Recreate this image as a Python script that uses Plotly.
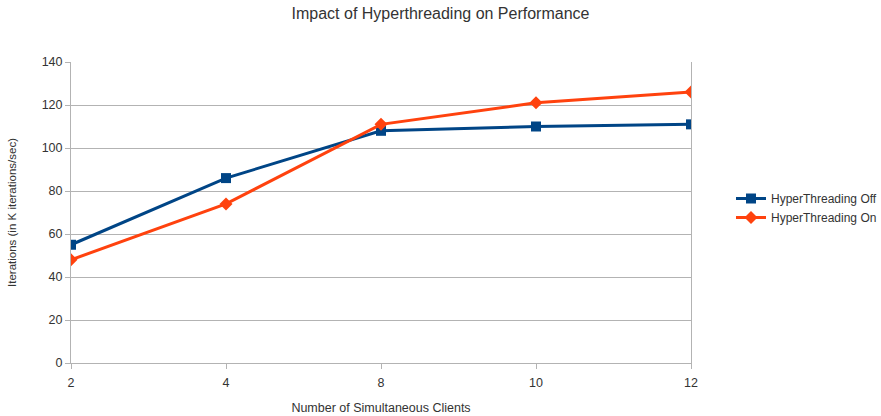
import plotly.graph_objects as go

clients = ["2", "4", "8", "10", "12"]
ht_off = [55, 86, 108, 110, 111]
ht_on = [48, 74, 111, 121, 126]
y_ticks = [0, 20, 40, 60, 80, 100, 120, 140]

FONT = "Liberation Sans, Arial, sans-serif"

fig = go.Figure()
fig.add_trace(go.Scatter(
    x=clients, y=ht_off, mode="lines+markers", name="HyperThreading Off",
    line=dict(color="#004586", width=3),
    marker=dict(symbol="square", size=10, color="#004586"),
))
fig.add_trace(go.Scatter(
    x=clients, y=ht_on, mode="lines+markers", name="HyperThreading On",
    line=dict(color="#ff420e", width=3),
    marker=dict(symbol="diamond", size=10, color="#ff420e"),
))

fig.update_layout(
    width=881, height=416,
    margin=dict(l=71, r=190, t=62, b=53, autoexpand=False),
    paper_bgcolor="white", plot_bgcolor="white",
    font=dict(family=FONT, color="#333333", size=12),
    title=dict(text="Impact of Hyperthreading on Performance", x=0.5, xref="container",
               y=1 - 13 / 416, yref="container", yanchor="middle", xanchor="center",
               font=dict(size=16, color="#333333")),
    legend=dict(xref="container", yref="container", x=731 / 881, y=0.5,
                xanchor="left", yanchor="middle",
                font=dict(size=12, color="#333333"), tracegroupgap=0,
                bgcolor="rgba(0,0,0,0)"),
    xaxis=dict(type="category", range=[0, 4], showgrid=False, automargin=False,
               showline=True, linecolor="#b3b3b3", linewidth=1,
               ticks="outside", ticklen=5, tickcolor="#b3b3b3",
               ticklabelstandoff=3,
               tickfont=dict(size=12.5, color="#333333"),
               title=dict(text="Number of Simultaneous Clients", font=dict(size=12.5), standoff=14),
               zeroline=False),
    yaxis=dict(range=[0, 140], tickvals=y_ticks, showgrid=True, gridcolor="#b3b3b3",
               gridwidth=1, showline=True, linecolor="#b3b3b3", linewidth=1, mirror=True,
               automargin=False,
               ticks="outside", ticklen=5, tickcolor="#b3b3b3",
               tickfont=dict(size=12.5, color="#333333"),
               title=dict(text="Iterations (in K iterations/sec)", font=dict(size=11.5), standoff=22),
               zeroline=False),
)

fig.write_html("out.html")
